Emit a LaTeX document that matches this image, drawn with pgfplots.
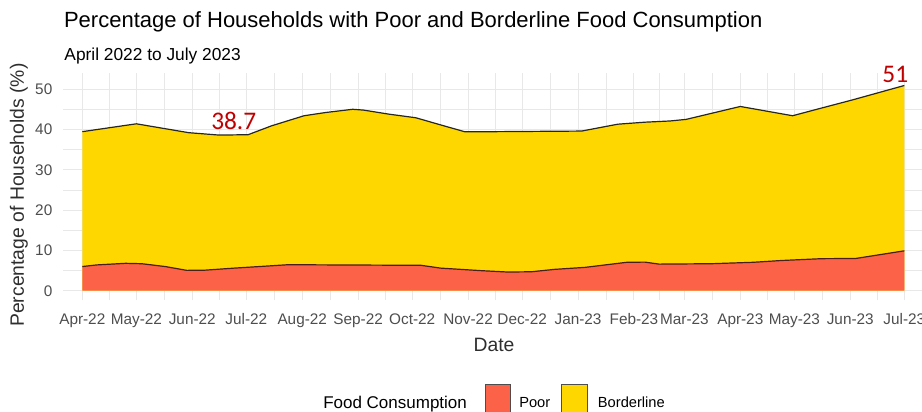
\documentclass[border=0pt]{standalone}
\usepackage{pgfplots}
\pgfplotsset{compat=1.18}
\usepackage{fontspec}
\setmainfont{Liberation Sans}
\newfontfamily\calibri{Carlito}
\definecolor{poorc}{RGB}{252,98,72}
\definecolor{borderc}{RGB}{255,215,0}
\definecolor{gridc}{RGB}{232,232,232}
\definecolor{labc}{RGB}{77,77,77}
\definecolor{annc}{RGB}{192,0,0}
\begin{document}
\begin{tikzpicture}
\useasboundingbox (-47.25pt,-83.25pt) rectangle (644.25pt,225pt);
\begin{axis}[
  at={(0,0)}, anchor=south west,
  scale only axis, width=644.25pt, height=170.25pt,
  xmin=-10.7, xmax=465.8, ymin=-2.3, ymax=54.0,
  axis line style={draw=none},
  major tick length=0pt, minor tick length=0pt,
  xtick={0,30,61,91,122,153,183,214,244,275,306,334,365,395,426,456},
  xticklabels={Apr-22,May-22,Jun-22,Jul-22,Aug-22,Sep-22,Oct-22,Nov-22,Dec-22,Jan-23,Feb-23,Mar-23,Apr-23,May-23,Jun-23,Jul-23},
  minor xtick={15,45.5,76,106.5,137.5,168,198.5,229,259.5,290.5,320,349.5,380,410.5,441},
  ytick={0,10,20,30,40,50},
  minor ytick={5,15,25,35,45},
  grid=both,
  major grid style={gridc, line width=0.7pt},
  minor grid style={gridc, line width=0.45pt},
  /pgf/number format/assume math mode=true,
  tick label style={font=\fontsize{11.5pt}{13pt}\selectfont, text=labc},
  xticklabel style={yshift=-6.5pt},
  yticklabel style={xshift=-4.5pt},
  clip=false,
]
% Total (Poor + Borderline)
\addplot[fill=borderc, draw=none] coordinates {
(0,39.45) (30,41.4) (59,39.2) (76,38.6) (92,38.7) (105,40.9) (123,43.4) (135,44.2)
(150,45.0) (156,44.8) (170,43.8) (185,42.9) (199,41.1) (212,39.45) (229,39.45)
(277,39.6) (297,41.3) (312,41.8) (326,42.1) (335,42.5) (365,45.7) (394,43.4)
(410,45.3) (427,47.3) (456,50.9)} \closedcycle;
% Poor
\addplot[fill=poorc, draw=none] coordinates {
(0,6.0) (8,6.4) (24,6.8) (33,6.7) (46,6.0) (58,5.05) (68,5.1) (84,5.6) (100,6.05)
(114,6.45) (188,6.3) (199,5.6) (222,4.96) (236,4.64) (249,4.7) (262,5.3) (279,5.8)
(290,6.4) (302,7.05) (312,7.1) (320,6.6) (349,6.7) (372,7.05) (388,7.5) (410,7.95)
(429,8.0) (456,9.9)} \closedcycle;
\addplot[black!85, line width=0.9pt] coordinates {
(0,39.45) (30,41.4) (59,39.2) (76,38.6) (92,38.7) (105,40.9) (123,43.4) (135,44.2)
(150,45.0) (156,44.8) (170,43.8) (185,42.9) (199,41.1) (212,39.45) (229,39.45)
(277,39.6) (297,41.3) (312,41.8) (326,42.1) (335,42.5) (365,45.7) (394,43.4)
(410,45.3) (427,47.3) (456,50.9)};
\addplot[black!70!poorc, line width=0.9pt] coordinates {
(0,6.0) (8,6.4) (24,6.8) (33,6.7) (46,6.0) (58,5.05) (68,5.1) (84,5.6) (100,6.05)
(114,6.45) (188,6.3) (199,5.6) (222,4.96) (236,4.64) (249,4.7) (262,5.3) (279,5.8)
(290,6.4) (302,7.05) (312,7.1) (320,6.6) (349,6.7) (372,7.05) (388,7.5) (410,7.95)
(429,8.0) (456,9.9)};
\node[anchor=south, text=annc, font=\calibri\fontsize{19pt}{21pt}\selectfont, inner sep=1pt] at (axis cs:84,39.6) {38.7};
\node[anchor=south, text=annc, font=\calibri\fontsize{19pt}{21pt}\selectfont, inner sep=1pt] at (axis cs:451,51.3) {51};
\end{axis}
% titles
\node[anchor=base west, inner sep=0pt, font=\fontsize{16.5pt}{19pt}\selectfont] at (0.6pt,204pt) {Percentage of Households with Poor and Borderline Food Consumption};
\node[anchor=base west, inner sep=0pt, font=\fontsize{13pt}{15pt}\selectfont] at (0.9pt,179.25pt) {April 2022 to July 2023};
\node[rotate=90, font=\fontsize{14.5pt}{17pt}\selectfont, text=labc!60!black] at (-33pt,78.75pt) {Percentage of Households (\%)};
\node[anchor=base, font=\fontsize{14.5pt}{17pt}\selectfont, text=labc!60!black] at (323.25pt,-38.25pt) {Date};
% legend
\node[anchor=base west, font=\fontsize{12.75pt}{15pt}\selectfont, inner sep=0pt] at (195pt,-81pt) {Food Consumption};
\fill[poorc, draw=labc, line width=0.6pt] (316.5pt,-63.2pt) rectangle (335.25pt,-86pt);
\node[anchor=base west, font=\fontsize{11pt}{13pt}\selectfont, inner sep=0pt] at (342pt,-80.25pt) {Poor};
\fill[borderc, draw=labc, line width=0.6pt] (373.5pt,-63.2pt) rectangle (393.2pt,-86pt);
\node[anchor=base west, font=\fontsize{11pt}{13pt}\selectfont, inner sep=0pt] at (401pt,-80.25pt) {Borderline};
\end{tikzpicture}
\end{document}
